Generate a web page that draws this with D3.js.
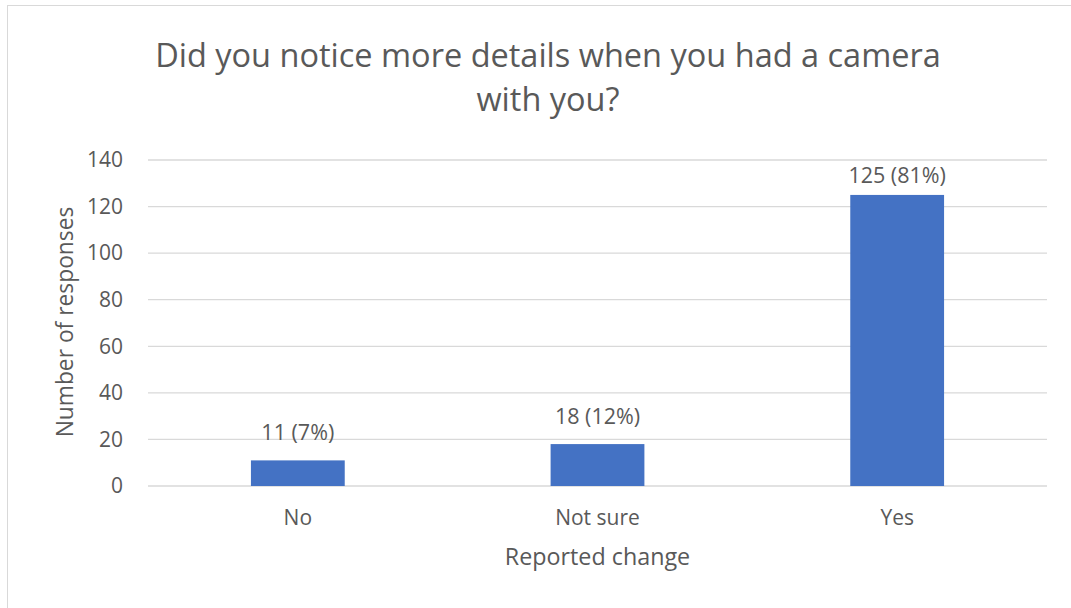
<!DOCTYPE html>
<html><head><meta charset="utf-8">
<script src="https://cdn.jsdelivr.net/npm/d3@7"></script>
<style>body{margin:0;background:#fff}svg{display:block}text{font-family:"Open Sans",sans-serif;fill:#595959}</style>
</head><body>
<script>
const categories = ["No", "Not sure", "Yes"];
const values = [11, 18, 125];
const valueLabels = ["11 (7%)", "18 (12%)", "125 (81%)"];
const yTicks = [0, 20, 40, 60, 80, 100, 120, 140];
const titleLines = ["Did you notice more details when you had a camera", "with you?"];

(function () {
const W = 1071, H = 608;
const svg = d3.select("body").append("svg").attr("width", W).attr("height", H);
svg.append("rect").attr("x", 7.5).attr("y", 5.5).attr("width", W).attr("height", H)
  .attr("fill", "#fff").attr("stroke", "#d9d9d9");

const pL = 148, pR = 1047, pT = 160, pB = 486;
const x = d3.scaleBand().domain(categories).range([pL, pR]).padding(0);
const y = d3.scaleLinear().domain([0, 140]).range([pB, pT]);

const grid = svg.append("g");
grid.selectAll("line").data(yTicks).join("line")
  .attr("x1", pL).attr("x2", pR)
  .attr("y1", d => y(d)).attr("y2", d => y(d))
  .attr("stroke", "#d9d9d9").attr("stroke-width", 1.3);

const yAxis = svg.append("g").attr("transform", `translate(${pL},0)`)
  .call(d3.axisLeft(y).tickValues(yTicks).tickSize(0).tickPadding(25));
yAxis.select(".domain").remove();
yAxis.selectAll("text").attr("font-size", 21).attr("fill", "#595959").attr("font-family", '"Open Sans",sans-serif');

const barW = x.bandwidth() * 0.313;
svg.append("g").selectAll("rect").data(values).join("rect")
  .attr("x", (d, i) => x(categories[i]) + x.bandwidth() / 2 - barW / 2)
  .attr("width", barW)
  .attr("y", d => y(d))
  .attr("height", d => y(0) - y(d))
  .attr("fill", "#4472c4");

svg.append("g").selectAll("text").data(values).join("text")
  .attr("x", (d, i) => x(categories[i]) + x.bandwidth() / 2)
  .attr("y", d => Math.max(y(d) - 20, pT + 23))
  .attr("text-anchor", "middle").attr("font-size", 21.5)
  .text((d, i) => valueLabels[i]);

const xAxis = svg.append("g").attr("transform", `translate(0,${pB})`)
  .call(d3.axisBottom(x).tickSize(0).tickPadding(24));
xAxis.select(".domain").remove();
xAxis.selectAll("text").attr("font-size", 21).attr("fill", "#595959").attr("font-family", '"Open Sans",sans-serif');

svg.append("text").attr("x", (pL + pR) / 2).attr("y", 565)
  .attr("text-anchor", "middle").attr("font-size", 23.3).text("Reported change");

svg.append("text").attr("transform", "translate(73,322) rotate(-90)")
  .attr("text-anchor", "middle").attr("font-size", 22.8).text("Number of responses");

svg.append("g").selectAll("text").data(titleLines).join("text")
  .attr("x", 548).attr("y", (d, i) => 67 + i * 44)
  .attr("text-anchor", "middle").attr("font-size", 32.5).text(d => d);
})();
</script>
</body></html>
